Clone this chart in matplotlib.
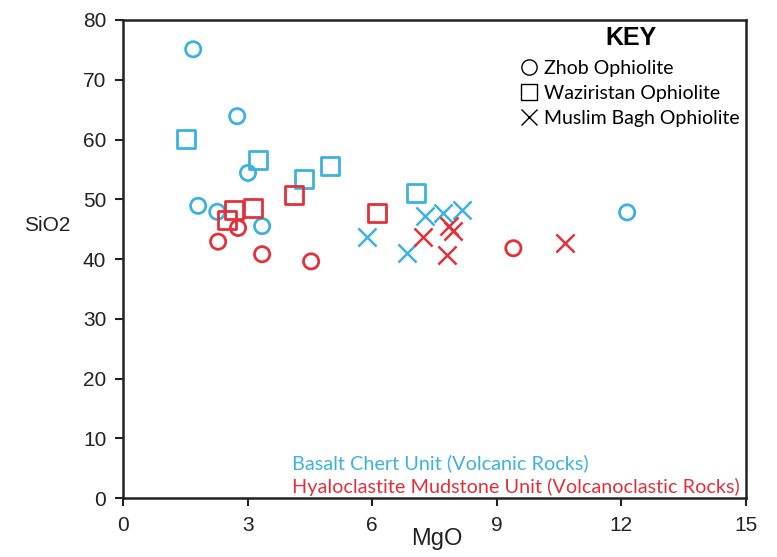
import matplotlib.pyplot as plt
from matplotlib.lines import Line2D

# MgO / SiO2 (wt%) grouped by ophiolite and unit
zhob_basalt_mgo = [1.69, 2.75, 3.01, 1.81, 2.27, 3.35, 12.14]
zhob_basalt_sio2 = [75.1, 63.9, 54.4, 48.9, 47.9, 45.5, 47.8]
zhob_hyalo_mgo = [2.29, 2.77, 3.35, 4.53, 9.40]
zhob_hyalo_sio2 = [42.9, 45.2, 40.8, 39.6, 41.8]

wazir_basalt_mgo = [1.52, 3.25, 4.36, 4.99, 7.06]
wazir_basalt_sio2 = [60.1, 56.6, 53.4, 55.6, 51.0]
wazir_hyalo_mgo = [2.51, 2.67, 3.13, 4.12, 6.12]
wazir_hyalo_sio2 = [46.5, 48.2, 48.5, 50.7, 47.7]

mbagh_basalt_mgo = [5.88, 6.84, 7.28, 7.71, 8.17]
mbagh_basalt_sio2 = [43.7, 41.0, 47.2, 47.7, 48.2]
mbagh_hyalo_mgo = [7.23, 7.86, 7.95, 7.81, 10.65]
mbagh_hyalo_sio2 = [43.7, 45.5, 44.7, 40.7, 42.7]

blue = '#3cb2e0'
red = '#e2313a'

plt.rcParams['font.family'] = ['Liberation Sans', 'DejaVu Sans']

fig = plt.figure(figsize=(7.77, 5.57), dpi=100)
ax = fig.add_axes([0.1583, 0.1059, 0.8017, 0.8582])

ax.scatter(zhob_basalt_mgo, zhob_basalt_sio2, s=120, marker='o', facecolors='none', edgecolors=blue, linewidths=2)
ax.scatter(zhob_hyalo_mgo, zhob_hyalo_sio2, s=120, marker='o', facecolors='none', edgecolors=red, linewidths=2)
ax.scatter(wazir_basalt_mgo, wazir_basalt_sio2, s=160, marker='s', facecolors='none', edgecolors=blue, linewidths=2)
ax.scatter(wazir_hyalo_mgo, wazir_hyalo_sio2, s=160, marker='s', facecolors='none', edgecolors=red, linewidths=2)
ax.scatter(mbagh_basalt_mgo, mbagh_basalt_sio2, s=170, marker='x', color=blue, linewidths=1.8)
ax.scatter(mbagh_hyalo_mgo, mbagh_hyalo_sio2, s=170, marker='x', color=red, linewidths=1.8)

ax.set_xlim(0, 15)
ax.set_ylim(0, 80)
ax.set_xticks([0, 3, 6, 9, 12, 15])
ax.set_yticks(range(0, 81, 10))
ax.tick_params(direction='out', length=6, width=1.5, labelsize=15, pad=6, colors='#222222')
ax.tick_params(axis='x', pad=7)
for sp in ax.spines.values():
    sp.set_linewidth(1.8)
    sp.set_color('#222222')

ax.text(-0.085, 0.57, 'SiO2', transform=ax.transAxes, fontsize=15, ha='right', va='center', color='#222222')
ax.text(0.504, -0.062, 'MgO', transform=ax.transAxes, fontsize=17, ha='center', va='top', color='#222222')

ax.text(0.272, 0.073, 'Basalt Chert Unit (Volcanic Rocks)', transform=ax.transAxes,
        color=blue, fontsize=14.3, family='Lato', va='center')
ax.text(0.272, 0.023, 'Hyaloclastite Mudstone Unit (Volcanoclastic Rocks)', transform=ax.transAxes,
        color=red, fontsize=14.3, family='Lato', va='center')

handles = [
    Line2D([], [], ls='none', marker='o', ms=11, mfc='none', mec='black', mew=1),
    Line2D([], [], ls='none', marker='s', ms=11, mfc='none', mec='black', mew=1),
    Line2D([], [], ls='none', marker='x', ms=11, color='black', mew=1),
]
labels = ['Zhob Ophiolite', 'Waziristan Ophiolite', 'Muslim Bagh Ophiolite']
leg = ax.legend(handles, labels, loc='upper right', bbox_to_anchor=(1.0, 1.0), frameon=False,
                title='KEY', title_fontproperties={'weight': 'bold', 'size': 18},
                prop={'family': 'Lato', 'size': 14}, handlelength=0.7, handletextpad=0.45,
                labelspacing=0.42, borderpad=0.15, borderaxespad=0.15)
leg._legend_box.sep = 7

fig.savefig('out.png', dpi=100)
